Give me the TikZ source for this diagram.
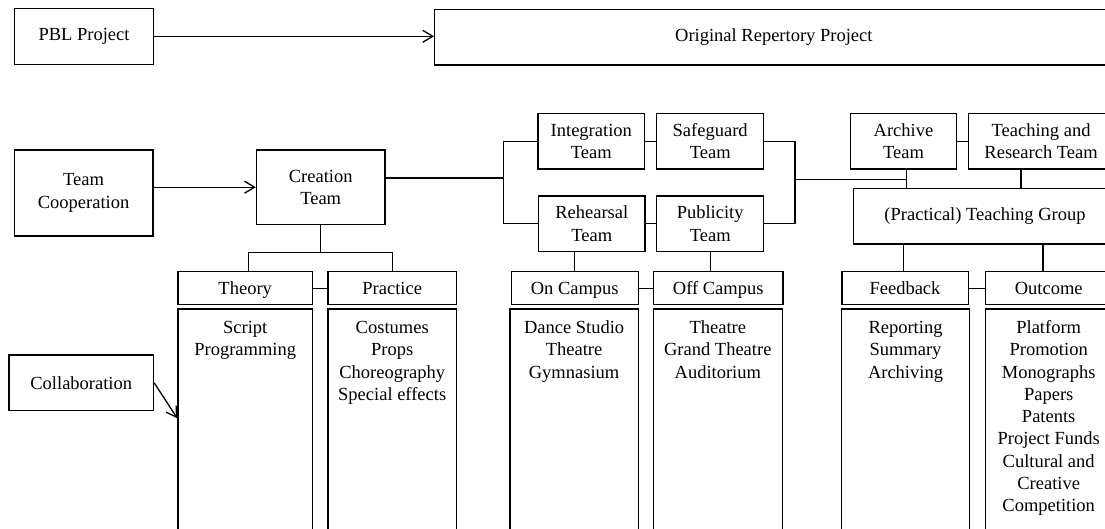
\documentclass[tikz,border=0pt]{standalone}
\usepackage{fontspec}
\setmainfont{Liberation Serif}
\usetikzlibrary{arrows.meta,calc}
\newcommand\dfont{\fontsize{18.5}{22.3}\selectfont}
\begin{document}
\begin{tikzpicture}[x=1pt,y=-1pt, line width=1.3pt,
  box/.style={draw, rectangle, inner sep=0pt, align=center, font=\dfont},
  hdr/.style={box, minimum height=33pt, text height=15pt, text depth=2.8pt},
  ctext/.style={anchor=north, inner sep=0pt, align=center, font=\dfont},
  arr/.style={-{Straight Barb[length=10pt,width=12pt]}},
]
\useasboundingbox (0,0) rectangle (1105,529);

% top row
\node[box, minimum width=139.3pt, minimum height=56pt] (pbl) at (84,36.3) {PBL Project};
\node[box, minimum width=678.4pt, minimum height=55.7pt] (orig) at (773.8,37.2) {Original Repertory Project};

% teams
\node[box, minimum width=138.6pt, minimum height=86pt] (tc) at (83.6,193) {Team\\Cooperation};
\node[box, minimum width=128.6pt, minimum height=74.3pt] (creation) at (320.7,187.2) {Creation\\Team};
\node[box, minimum width=106.5pt, minimum height=55.7pt] (integ) at (591.3,141.2) {Integration\\Team};
\node[box, minimum width=107.2pt, minimum height=55.7pt] (safe) at (710.2,141.2) {Safeguard\\Team};
\node[box, minimum width=106.5pt, minimum height=55.7pt] (rehe) at (591.8,223.8) {Rehearsal\\Team};
\node[box, minimum width=107.2pt, minimum height=55.7pt] (publ) at (710.2,223.8) {Publicity\\Team};
\node[box, minimum width=105.6pt, minimum height=55.7pt] (archive) at (903.5,141.2) {Archive\\Team};
\node[box, minimum width=145.8pt, minimum height=55.7pt] (tr) at (1041.1,141.2) {Teaching and\\Research Team};
\node[box, minimum width=263.4pt, minimum height=55.7pt] (group) at (985,216.2) {(Practical) Teaching Group};

% headers
\node[hdr, minimum width=134.6pt] (theory) at (245.2,288.2) {Theory};
\node[hdr, minimum width=128.5pt] (practice) at (392.2,288.2) {Practice};
\node[hdr, minimum width=127.1pt] (oncampus) at (574.7,288.2) {On Campus};
\node[hdr, minimum width=129.5pt] (offcampus) at (718.2,288.2) {Off Campus};
\node[hdr, minimum width=126.3pt] (feedback) at (905,288.2) {Feedback};
\node[hdr, minimum width=126.6pt] (outcome) at (1048.7,288.2) {Outcome};

% content boxes
\node[box, minimum width=134.6pt, minimum height=236pt] (thc) at (245.2,427) {};
\node[box, minimum width=128.5pt, minimum height=236pt] (prc) at (392.2,427) {};
\node[box, minimum width=128.3pt, minimum height=236pt] (onc) at (574.1,427) {};
\node[box, minimum width=128.7pt, minimum height=236pt] (offc) at (717.8,427) {};
\node[box, minimum width=127.9pt, minimum height=236pt] (fbc) at (905.5,427) {};
\node[box, minimum width=126.6pt, minimum height=236pt] (occ) at (1048.7,427) {};

\node[ctext] (thct) at (thc.north |- 0,318.8) {\rule{0pt}{14pt}Script\\Programming};
\node[ctext] (prct) at (prc.north |- 0,318.8) {\rule{0pt}{14pt}Costumes\\Props\\Choreography\\Special effects};
\node[ctext] (onct) at (onc.north |- 0,318.8) {\rule{0pt}{14pt}Dance Studio\\Theatre\\Gymnasium};
\node[ctext] (offct) at (offc.north |- 0,318.8) {\rule{0pt}{14pt}Theatre\\Grand Theatre\\Auditorium};
\node[ctext] (fbct) at (fbc.north |- 0,318.8) {\rule{0pt}{14pt}Reporting\\Summary\\Archiving};
\node[ctext] (occt) at (occ.north |- 0,318.8) {\rule{0pt}{14pt}Platform\\Promotion\\Monographs\\Papers\\Patents\\Project Funds\\Cultural and\\Creative\\Competition};

\node[box, minimum width=144.7pt, minimum height=55.7pt] (collab) at (81.25,382.9) {Collaboration};

% connectors
\draw[arr] (pbl.east) -- (pbl.east -| orig.west);
\draw[arr] (tc.east |- creation.west) -- (creation.west);
\coordinate (lbA) at (503.4,141.2);
\coordinate (lbB) at (503.4,223.8);
\draw (integ.west) -- (lbA) -- (lbB) -- (rehe.west);
\draw (creation.east |- 0,178) -- (lbA |- 0,178);
\draw (integ.east) -- (safe.west);
\draw (rehe.east) -- (publ.west);
\coordinate (rbA) at (794.9,141.2);
\coordinate (rbB) at (794.9,223.8);
\draw (safe.east) -- (rbA) -- (rbB) -- (publ.east);
\coordinate (aj) at (906.6,179.3);
\draw (rbA |- aj) -- (aj);
\draw (archive.south -| aj) -- (group.north -| aj);
\draw (archive.east) -- (tr.west);
\draw (tr.south -| 1021,0) -- (group.north -| 1021,0);
\draw (group.south -| 903.3,0) -- (feedback.north -| 903.3,0);
\draw (group.south -| 1043,0) -- (outcome.north -| 1043,0);
\draw (feedback.east) -- (outcome.west);
\coordinate (tj) at (320.7,252.7);
\draw (creation.south) -- (tj);
\draw (theory.north -| 248.2,0) |- (tj) -| (practice.north);
\draw (theory.east) -- (practice.west);
\draw (rehe.south -| oncampus.north) -- (oncampus.north);
\draw (publ.south) -- (offcampus.north -| publ.south);
\draw (oncampus.east) -- (offcampus.west);
\draw[arr] (collab.east) -- (thc.west |- 0,418.3);
\end{tikzpicture}
\end{document}
